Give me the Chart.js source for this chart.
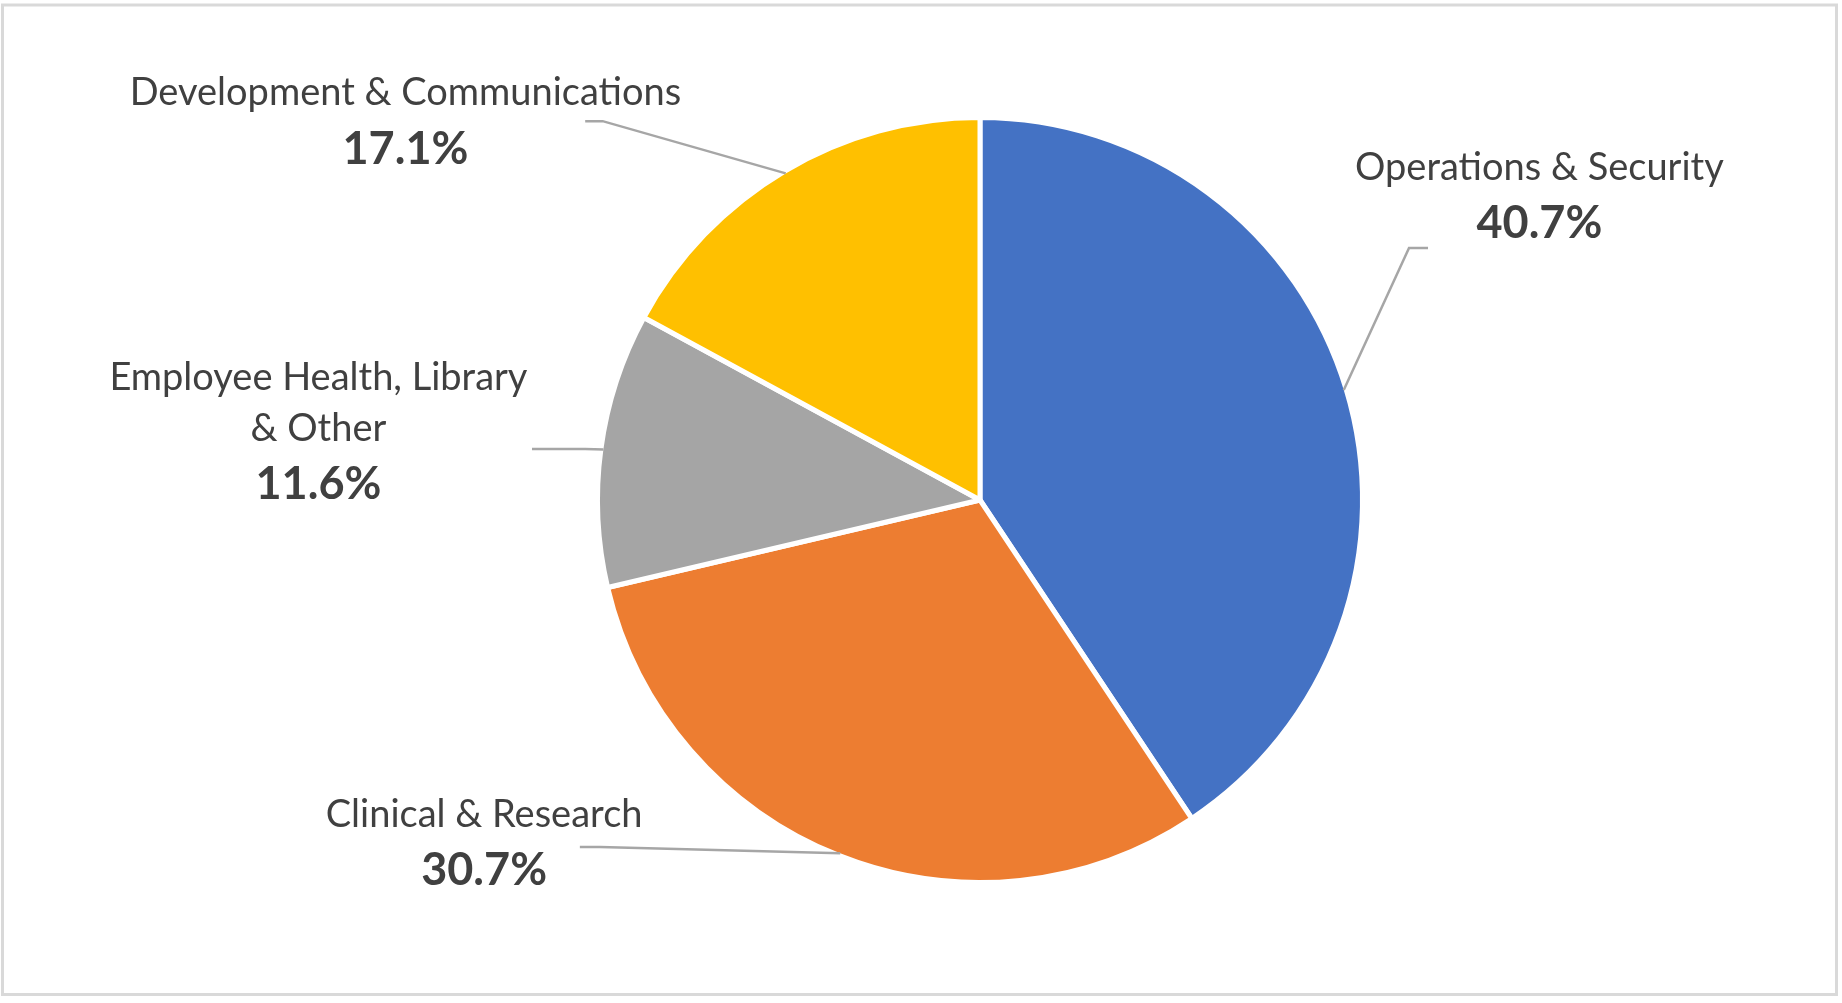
<!DOCTYPE html>
<html>
<head>
<meta charset="utf-8">
<script src="https://cdn.jsdelivr.net/npm/chart.js@4/dist/chart.umd.min.js"></script>
<style>
html, body { margin: 0; padding: 0; background: #fff; }
canvas { display: block; }
</style>
</head>
<body>
<canvas id="pie-chart" width="1842" height="1003"></canvas>
<script>
// Slices, clockwise from 12 o'clock
const categories = ['Operations & Security', 'Clinical & Research', ['Employee Health, Library', '& Other'], 'Development & Communications'];
const shares = [40.7, 30.7, 11.6, 17.1]; // percent
const sliceColors = ['#4472C4', '#ED7D31', '#A5A5A5', '#FFC000'];

// label placement, in pie-radius units from the centre
// lines = baselines of each text line (name lines first, then the percent)
const labelSpots = [
    { x: 1.472, lines: [-0.842, -0.689], elbow: [1.129, -0.663], end: [1.179, -0.663] },
    { x: -1.305, lines: [0.860, 1.013], elbow: [-1.0, 0.913], end: [-1.053, 0.913] },
    { x: -1.741, lines: [-0.289, -0.156, -0.003], elbow: [-1.039, -0.134], end: [-1.179, -0.134] },
    { x: -1.512, lines: [-1.040, -0.885], elbow: [-0.993, -0.997], end: [-1.039, -0.997] }
];

const textColor = '#404040';
const leaderColor = '#A6A6A6';
const sliceBorder = 5;

// grey frame round the whole chart
const framePlugin = {
    id: 'frame',
    beforeDraw(chart) {
        const c = chart.ctx;
        c.save();
        c.fillStyle = '#fff';
        c.fillRect(0, 0, chart.width, chart.height);
        c.strokeStyle = '#D9D9D9';
        c.lineWidth = 3;
        c.strokeRect(2.5, 5, 1834, 989.5);
        c.restore();
    }
};

// outside labels with leader lines, Excel style
const outsideLabels = {
    id: 'outsideLabels',
    afterDatasetsDraw(chart) {
        const c = chart.ctx;
        const arcs = chart.getDatasetMeta(0).data;
        c.save();
        arcs.forEach((arc, i) => {
            const r = arc.outerRadius - sliceBorder / 2;
            const cx = arc.x, cy = arc.y;
            const mid = (arc.startAngle + arc.endAngle) / 2;
            const spot = labelSpots[i];

            // leader line: slice edge -> elbow -> end
            c.strokeStyle = leaderColor;
            c.lineWidth = 2.5;
            c.beginPath();
            c.moveTo(cx + Math.cos(mid) * r, cy + Math.sin(mid) * r);
            c.lineTo(cx + spot.elbow[0] * r, cy + spot.elbow[1] * r);
            c.lineTo(cx + spot.end[0] * r, cy + spot.end[1] * r);
            c.stroke();

            // text
            const names = Array.isArray(categories[i]) ? categories[i] : [categories[i]];
            const tx = cx + spot.x * r;
            c.fillStyle = textColor;
            c.textAlign = 'center';
            c.textBaseline = 'alphabetic';
            c.font = '38px Lato';
            names.forEach((line, k) => {
                c.fillText(line, tx, cy + spot.lines[k] * r);
            });
            c.font = 'bold 45px Lato';
            c.fillText(shares[i].toFixed(1) + '%', tx, cy + spot.lines[names.length] * r);
        });
        c.restore();
    }
};

const pieEl = document.getElementById('pie-chart');

const pieChart = new Chart(pieEl, {
    type: 'pie',
    data: {
        labels: categories,
        datasets: [{
            data: shares,
            backgroundColor: sliceColors,
            borderColor: '#ffffff',
            borderWidth: sliceBorder
        }]
    },
    options: {
        responsive: false,
        animation: false,
        layout: {
            padding: { top: 115, bottom: 118, left: 595, right: 477 }
        },
        plugins: {
            legend: { display: false },
            tooltip: { enabled: false }
        }
    },
    plugins: [framePlugin, outsideLabels]
});
</script>
</body>
</html>
